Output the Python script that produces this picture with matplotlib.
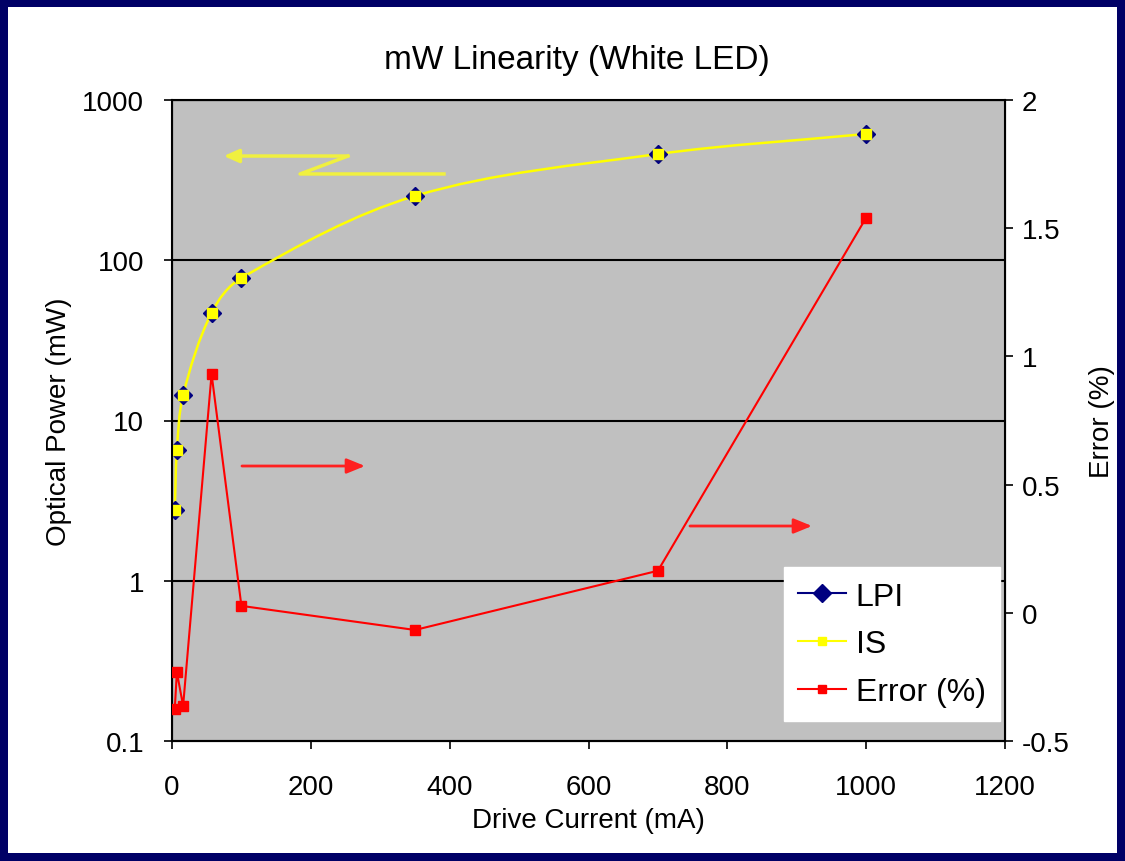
import numpy as np
import matplotlib
matplotlib.use('Agg')
import matplotlib.pyplot as plt
from matplotlib.path import Path
from matplotlib.patches import PathPatch, Rectangle
from matplotlib.lines import Line2D

plt.rcParams['font.family'] = ['Liberation Sans', 'DejaVu Sans']

# data
current = [4, 7, 16, 57, 100, 350, 700, 1000]
lpi = [2.77, 6.5, 14.4, 47, 77.5, 252, 460, 614]
integ_sphere = [2.77, 6.5, 14.4, 47, 77.5, 252, 460, 614]
error_pct = [-0.375, -0.231, -0.363, 0.931, 0.027, -0.067, 0.164, 1.541]

left_ticks = [0.1, 1, 10, 100, 1000]
left_ticklabels = ['0.1', '1', '10', '100', '1000']
right_ticks = [-0.5, 0, 0.5, 1, 1.5, 2]
right_ticklabels = ['-0.5', '0', '0.5', '1', '1.5', '2']
x_ticks = [0, 200, 400, 600, 800, 1000, 1200]

W, H = 1125, 862
fig = plt.figure(figsize=(W / 100, H / 100), dpi=100)
fig.patch.set_facecolor('#000066')
fig.add_artist(Rectangle((8 / W, 8 / H), 1 - 16 / W, 1 - 16 / H,
                         transform=fig.transFigure, facecolor='white',
                         edgecolor='none', zorder=-10))

# axes box in pixels: left 172, right 1005, top 101, bottom 742
ax = fig.add_axes([172 / W, 1 - 742 / H, 833 / W, 641 / H])
ax.set_facecolor('#c0c0c0')
ax.set_yscale('log')
ax.set_xlim(0, 1200)
ax.set_ylim(0.1, 1000)
ax.set_yticks(left_ticks)
ax.set_yticklabels(left_ticklabels)
ax.yaxis.set_minor_locator(matplotlib.ticker.NullLocator())
ax.set_xticks(x_ticks)
ax.yaxis.grid(True, color='black', lw=1.5)
ax.tick_params(axis='y', labelsize=20, length=6, width=1.2, pad=14)
ax.tick_params(axis='x', labelsize=20, length=6, width=1.2, pad=18)
for s in ax.spines.values():
    s.set_linewidth(1.5)

# smoothed IS line, bezier built in screen space like the spreadsheet does
P = ax.transData.transform(np.column_stack([current, integ_sphere]))
n = len(P)
T = np.zeros_like(P)
for i in range(n):
    d = P[min(i + 1, n - 1)] - P[max(i - 1, 0)]
    T[i] = d / np.hypot(*d)
verts = [P[0]]
codes = [Path.MOVETO]
for i in range(n - 1):
    seg = np.hypot(*(P[i + 1] - P[i])) / 3
    verts += [P[i] + T[i] * seg, P[i + 1] - T[i + 1] * seg, P[i + 1]]
    codes += [Path.CURVE4] * 3
verts = ax.transData.inverted().transform(np.array(verts))
ax.add_patch(PathPatch(Path(verts, codes), fill=False, edgecolor='#ffff00',
                       lw=1.8, zorder=3))

ax.plot(current, lpi, linestyle='none', marker='D', ms=9, color='#000080', zorder=4)
ax.plot(current, integ_sphere, linestyle='none', marker='s', ms=7,
        color='#ffff00', mec='#ffff00', zorder=5)

ax.set_title('mW Linearity (White LED)', fontsize=24, pad=23, x=0.486)
ax.set_ylabel('Optical Power (mW)', fontsize=20, labelpad=7)
ax.set_xlabel('Drive Current (mA)', fontsize=20, labelpad=5)

ax2 = ax.twinx()
ax2.set_ylim(-0.5, 2)
ax2.set_yticks(right_ticks)
ax2.set_yticklabels(right_ticklabels)
ax2.tick_params(axis='y', labelsize=20, length=6, width=1.2, pad=6)
ax2.set_ylabel('Error (%)', fontsize=20, labelpad=14)
ax2.plot(current, error_pct, color='#ff0000', lw=1.5, marker='s', ms=6.5, zorder=4)

# annotation arrows (axes fraction)
ax.plot([0.3265, 0.1537, 0.2113], [0.8846, 0.8846, 0.9126], color='#f0f040',
        lw=2.5, transform=ax.transAxes, zorder=2)
ax.annotate('', xy=(0.062, 0.9126), xytext=(0.2113, 0.9126),
            xycoords='axes fraction', textcoords='axes fraction',
            arrowprops=dict(arrowstyle='-|>,head_length=0.9,head_width=0.4',
                            color='#f0f040', lw=2.5, shrinkA=0, shrinkB=0))
for x0, x1, y0 in [(0.084, 0.2317, 0.429), (0.6218, 0.7683, 0.3354)]:
    ax2.annotate('', xy=(x1, y0), xytext=(x0, y0),
                 xycoords='axes fraction', textcoords='axes fraction',
                 arrowprops=dict(arrowstyle='-|>,head_length=1.1,head_width=0.45',
                                 color='#ff2020', lw=2, shrinkA=0, shrinkB=0))

handles = [
    Line2D([], [], color='#000080', lw=1.5, marker='D', ms=9),
    Line2D([], [], color='#ffff00', lw=1.5, marker='s', ms=6),
    Line2D([], [], color='#ff0000', lw=1.5, marker='s', ms=6),
]
leg = ax2.legend(handles, ['LPI', 'IS', 'Error (%)'], loc='lower right',
                 bbox_to_anchor=(0.994, 0.031), borderaxespad=0, fontsize=23,
                 frameon=True, fancybox=False, framealpha=1, edgecolor='white',
                 handlelength=1.5, labelspacing=0.55, handletextpad=0.3,
                 borderpad=0.45)
leg.get_frame().set_facecolor('white')

fig.savefig('out.png', dpi=100, facecolor=fig.get_facecolor())
